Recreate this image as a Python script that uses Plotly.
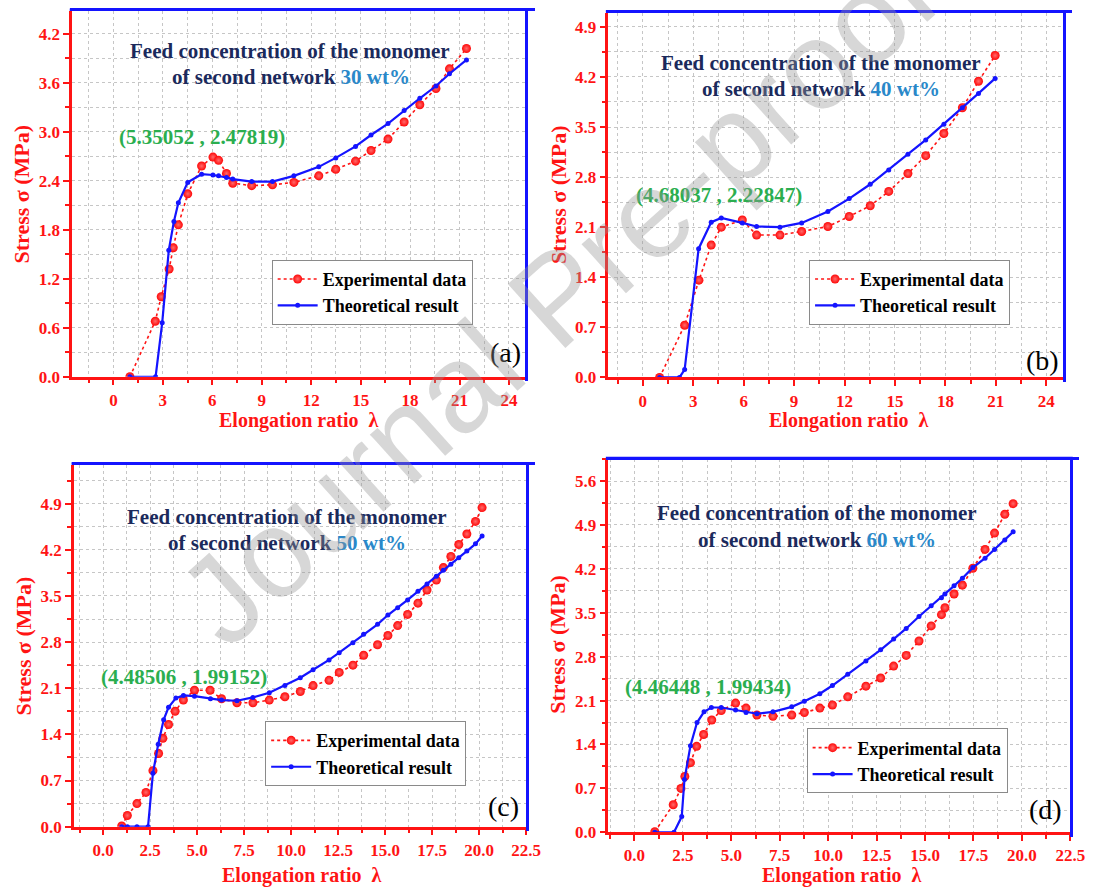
import plotly.graph_objects as go

W, H = 1105, 895

# ---------------- data ----------------
# (a) 30 wt%
a_exp_x = [1.0, 2.54, 2.9, 3.38, 3.63, 3.94, 4.51, 5.35, 6.04, 6.38, 6.86, 7.24, 8.39, 9.65, 10.95,
           12.46, 13.49, 14.69, 15.63, 16.66, 17.64, 18.59, 19.57, 20.39, 21.42]
a_exp_y = [0.0, 0.68, 0.98, 1.32, 1.58, 1.86, 2.24, 2.58, 2.69, 2.65, 2.49, 2.37, 2.34, 2.35, 2.38,
           2.46, 2.54, 2.64, 2.77, 2.91, 3.12, 3.33, 3.53, 3.77, 4.02]
a_th_x = [1.0, 2.56, 2.96, 3.36, 3.67, 3.94, 4.51, 5.35, 6.04, 6.38, 6.86, 7.24, 8.39, 9.65, 10.95,
          12.46, 13.49, 14.69, 15.63, 16.66, 17.64, 18.59, 19.57, 20.39, 21.42]
a_th_y = [0.0, 0.0, 0.66, 1.55, 1.90, 2.13, 2.38, 2.48, 2.47, 2.46, 2.44, 2.42, 2.39, 2.39, 2.46,
          2.57, 2.68, 2.82, 2.96, 3.10, 3.26, 3.41, 3.56, 3.71, 3.88]

# (b) 40 wt%
b_exp_x = [1.0, 2.49, 3.34, 4.07, 4.67, 5.92, 6.77, 8.16, 9.45, 11.01, 12.28, 13.53, 14.63, 15.77,
           16.83, 17.91, 19.01, 19.97, 20.96]
b_exp_y = [0.0, 0.73, 1.36, 1.85, 2.10, 2.20, 1.99, 1.99, 2.04, 2.11, 2.25, 2.40, 2.60, 2.85,
           3.10, 3.41, 3.77, 4.14, 4.50]
b_th_x = [1.0, 2.18, 2.49, 3.32, 4.07, 4.67, 5.92, 6.77, 8.16, 9.45, 11.01, 12.28, 13.53, 14.63,
          15.77, 16.83, 17.91, 19.01, 19.97, 20.96]
b_th_y = [0.0, 0.0, 0.11, 1.80, 2.17, 2.23, 2.16, 2.11, 2.10, 2.16, 2.32, 2.50, 2.70, 2.90,
          3.12, 3.32, 3.54, 3.77, 3.97, 4.18]

# (c) 50 wt%
c_exp_x = [0.99, 1.29, 1.80, 2.28, 2.65, 2.95, 3.18, 3.48, 3.83, 4.27, 4.86, 5.69, 6.30, 7.12, 7.97,
           8.84, 9.67, 10.49, 11.17, 12.02, 12.56, 13.29, 13.86, 14.60, 15.15, 15.67, 16.20, 16.75,
           17.23, 17.73, 18.10, 18.50, 18.92, 19.35, 19.81, 20.16]
c_exp_y = [0.01, 0.17, 0.35, 0.52, 0.85, 1.11, 1.34, 1.55, 1.75, 1.92, 2.07, 2.07, 1.94, 1.88, 1.88,
           1.92, 1.97, 2.05, 2.14, 2.22, 2.34, 2.45, 2.60, 2.76, 2.90, 3.05, 3.22, 3.39,
           3.59, 3.74, 3.93, 4.10, 4.28, 4.44, 4.63, 4.84]
c_th_x = [0.99, 1.29, 1.80, 2.39, 2.65, 2.93, 3.22, 3.48, 3.87, 4.27, 4.86, 5.71, 6.30, 7.12, 7.97,
          8.84, 9.67, 10.49, 11.17, 12.02, 12.56, 13.29, 13.86, 14.60, 15.15, 15.67, 16.20, 16.75,
          17.23, 17.73, 18.10, 18.50, 18.92, 19.35, 19.81, 20.16]
c_th_y = [0.0, 0.0, 0.0, 0.0, 0.81, 1.25, 1.62, 1.81, 1.95, 1.99, 1.98, 1.94, 1.92, 1.91, 1.96,
          2.03, 2.14, 2.26, 2.38, 2.53, 2.64, 2.79, 2.92, 3.07, 3.21, 3.32, 3.44, 3.57,
          3.68, 3.80, 3.89, 3.98, 4.08, 4.18, 4.29, 4.41]

# (d) 60 wt%
d_exp_x = [1.05, 2.0, 2.40, 2.60, 2.89, 3.21, 3.57, 3.99, 4.48, 5.22, 5.76, 6.32, 7.15, 8.12, 8.77,
           9.57, 10.22, 11.01, 11.95, 12.71, 13.38, 14.03, 14.69, 15.32, 15.85, 16.03, 16.50, 16.93,
           17.47, 18.10, 18.59, 19.12, 19.55]
d_exp_y = [0.01, 0.44, 0.70, 0.89, 1.11, 1.37, 1.56, 1.79, 1.94, 2.06, 1.98, 1.87, 1.85, 1.87, 1.91,
           1.98, 2.03, 2.16, 2.33, 2.46, 2.65, 2.82, 3.05, 3.29, 3.47, 3.58, 3.80, 3.94,
           4.21, 4.51, 4.77, 5.07, 5.24]
d_th_x = [1.05, 2.04, 2.44, 2.58, 2.89, 3.23, 3.59, 3.97, 4.48, 5.22, 5.76, 6.32, 7.15, 8.12, 8.77,
          9.57, 10.22, 11.01, 11.95, 12.71, 13.38, 14.03, 14.69, 15.32, 15.85, 16.03, 16.50, 16.93,
          17.47, 18.10, 18.59, 19.12, 19.55]
d_th_y = [0.0, 0.0, 0.25, 0.84, 1.38, 1.75, 1.92, 1.99, 1.99, 1.95, 1.91, 1.89, 1.92, 2.00, 2.09,
          2.21, 2.34, 2.52, 2.73, 2.91, 3.08, 3.25, 3.44, 3.61, 3.74, 3.80, 3.93, 4.05,
          4.22, 4.37, 4.51, 4.66, 4.79]

concentrations = ["30 wt%", "40 wt%", "50 wt%", "60 wt%"]
peak_labels = ["(5.35052 , 2.47819)", "(4.68037 , 2.22847)", "(4.48506 , 1.99152)", "(4.46448 , 1.99434)"]
panel_tags = ["(a)", "(b)", "(c)", "(d)"]
series_names = ["Experimental data", "Theoretical result"]

# ---------------- styling / layout ----------------
RED = "#ff1414"
BLUE = "#1414ff"
NAVY = "#1b2a5c"
LBLUE = "#2a88c9"
GREEN = "#2bae4f"
SERIF = "Liberation Serif"
LW = 2.5

def px_x(p):
    return p / W

def px_y(p):
    return 1 - p / H

panels = [
    dict(exp=(a_exp_x, a_exp_y), th=(a_th_x, a_th_y), box=(73.2, 532.7, 11, 381),
         xr=[-2.5, 25], yr=[0, 4.48], xdt=3, xmin=1.5, ydt=0.6, ymin=0.3, xfmt="d",
         t1=(294, 51.7), t2=(294.5, 77.7), pk=(205, 138.3), tag=(512.5, 356.7),
         xt=(303, 425), yt=(22, 196), leg=(275.4, 262.7)),
    dict(exp=(b_exp_x, b_exp_y), th=(b_th_x, b_th_y), box=(616.7, 1077.7, 12.7, 381.7),
         xr=[-2.05, 25], yr=[0, 5.1], xdt=3, xmin=1.5, ydt=0.7, ymin=0.35, xfmt="d",
         t1=(832, 63.3), t2=(832.5, 90), pk=(728.4, 197.3), tag=(1057, 365),
         xt=(860, 425), yt=(566, 197), leg=(820.2, 262.7)),
    dict(exp=(c_exp_x, c_exp_y), th=(c_th_x, c_th_y), box=(75, 533.3, 470, 836),
         xr=[-1.55, 22.5], yr=[0, 5.49], xdt=2.5, xmin=1.25, ydt=0.7, ymin=0.35, xfmt=".1f",
         t1=(290.5, 522.7), t2=(291.2, 548.7), pk=(187, 685), tag=(510.5, 816),
         xt=(306, 885), yt=(24, 653), leg=(268.8, 729.3)),
    dict(exp=(d_exp_x, d_exp_y), th=(d_th_x, d_th_y), box=(616.7, 1085, 464.3, 841.7),
         xr=[-1.35, 22.5], yr=[0, 5.95], xdt=2.5, xmin=1.25, ydt=0.7, ymin=0.35, xfmt=".1f",
         t1=(828.4, 519.3), t2=(828.5, 546), pk=(717.5, 695), tag=(1059.6, 818.3),
         xt=(853, 885), yt=(565, 651.7), leg=(817.7, 736.7)),
]

fig = go.Figure()
layout = {}
annotations = []
shapes = []

grid = dict(gridcolor="#c6c6c6", griddash="3px,3px", gridwidth=1)

for i, p in enumerate(panels, start=1):
    xs = "" if i == 1 else str(i)
    xref = "x" + xs
    yref = "y" + xs
    leg = "legend" + xs
    l, r, t, b = p["box"]
    dom_x = [px_x(l), px_x(r)]
    dom_y = [px_y(b), px_y(t)]

    fig.add_trace(go.Scatter(
        x=p["exp"][0], y=p["exp"][1], xaxis=xref, yaxis=yref, legend=leg,
        name=series_names[0], mode="lines+markers",
        line=dict(color=RED, width=1.6, dash="dot"),
        marker=dict(size=9, color="#ff0808", gradient=dict(type="radial", color="#ff6a6a"))))
    fig.add_trace(go.Scatter(
        x=p["th"][0], y=p["th"][1], xaxis=xref, yaxis=yref, legend=leg,
        name=series_names[1], mode="lines+markers",
        line=dict(color=BLUE, width=2.2),
        marker=dict(size=5, color=BLUE)))

    tickfont = dict(family=SERIF, size=17, color=RED, weight="bold")
    layout["xaxis" + xs] = dict(
        domain=dom_x, range=p["xr"], anchor=yref, showline=True, linecolor=RED, linewidth=LW,
        ticks="outside", ticklen=6, tickwidth=2, tickcolor=RED, tick0=0, dtick=p["xdt"],
        tickformat=p["xfmt"], tickfont=tickfont, zeroline=False, showgrid=True, **grid,
        minor=dict(tick0=0, dtick=p["xmin"], ticks="outside", ticklen=4, tickwidth=2,
                   tickcolor=RED, showgrid=True, **grid))
    layout["yaxis" + xs] = dict(
        domain=dom_y, range=p["yr"], anchor=xref, showline=True, linecolor=RED, linewidth=LW,
        ticks="outside", ticklen=6, tickwidth=2, tickcolor=RED, tick0=0, dtick=p["ydt"],
        tickformat=".1f", tickfont=tickfont, zeroline=False, showgrid=True, **grid,
        minor=dict(tick0=0, dtick=p["ymin"], ticks="outside", ticklen=4, tickwidth=2,
                   tickcolor=RED, showgrid=True, **grid))

    # blue frame on the top and right edges (paper shapes)
    top = dom_y[1] + (LW / 2) / H
    right = dom_x[1] + (LW / 2) / W
    shapes.append(dict(type="line", xref="paper", yref="paper",
                       x0=dom_x[0] - LW / W, x1=right + (LW / 2) / W, y0=top, y1=top,
                       line=dict(color=BLUE, width=LW), layer="above"))
    shapes.append(dict(type="line", xref="paper", yref="paper",
                       x0=right, x1=right, y0=dom_y[0], y1=top,
                       line=dict(color=BLUE, width=LW), layer="above"))
    # same frame again as thin filled boxes in the annotation layer
    annotations.append(dict(
        text="\u200b", x=px_x(l - LW), y=px_y(t - LW), xref="paper", yref="paper",
        xanchor="left", yanchor="top", showarrow=False, width=r - l + 2 * LW, height=LW,
        bgcolor=BLUE, borderpad=0, borderwidth=0, font=dict(size=1)))
    annotations.append(dict(
        text="\u200b", x=px_x(r), y=px_y(t - LW), xref="paper", yref="paper",
        xanchor="left", yanchor="top", showarrow=False, width=LW, height=b - t + LW,
        bgcolor=BLUE, borderpad=0, borderwidth=0, font=dict(size=1)))

    layout["legend" + xs] = dict(
        x=px_x(p["leg"][0]), y=px_y(p["leg"][1]), xref="paper", yref="paper",
        xanchor="left", yanchor="top", bgcolor="white", bordercolor="#8a8a8a", borderwidth=1,
        font=dict(family=SERIF, size=18, color="black", weight="bold"),
        tracegroupgap=0, itemwidth=40)

    def ann(text, pos, size, color, weight="bold", angle=0):
        annotations.append(dict(
            text=text, x=px_x(pos[0]), y=px_y(pos[1]), xref="paper", yref="paper",
            xanchor="center", yanchor="middle", showarrow=False, textangle=angle,
            font=dict(family=SERIF, size=size, color=color, weight=weight)))

    ann("Feed concentration of the monomer", p["t1"], 21, NAVY)
    ann("of second network <span style='color:%s'>%s</span>" % (LBLUE, concentrations[i - 1]),
        p["t2"], 21, NAVY)
    ann(peak_labels[i - 1], p["pk"], 21, GREEN)
    ann(panel_tags[i - 1], p["tag"], 28, "black", weight="normal")
    ann("Elongation ratio\u00a0 λ", p["xt"], 20, RED)
    ann("Stress σ (MPa)", p["yt"], 22, RED, angle=-90)

# watermark of the source document
annotations.append(dict(
    text="Journal Pre-proof", x=px_x(565), y=px_y(300), xref="paper", yref="paper",
    xanchor="center", yanchor="middle", showarrow=False, textangle=-42,
    font=dict(family="Liberation Sans", size=125, color="rgba(150,150,150,0.38)")))

fig.update_layout(
    width=W, height=H, margin=dict(l=0, r=0, t=0, b=0),
    paper_bgcolor="white", plot_bgcolor="white",
    annotations=annotations, shapes=shapes, **layout)

fig.write_html("out.html")
